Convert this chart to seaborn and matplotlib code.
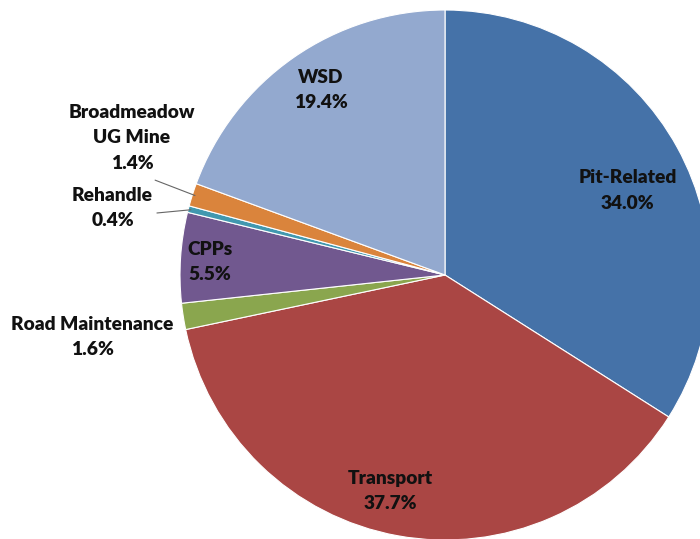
import numpy as np
import matplotlib
matplotlib.use("Agg")
import matplotlib.pyplot as plt
import seaborn as sns

# data (clockwise from 12 o'clock)
categories = ["Pit-Related", "Transport", "Road Maintenance", "CPPs",
              "Rehandle", "Broadmeadow\nUG Mine", "WSD"]
shares = [34.0, 37.7, 1.6, 5.5, 0.4, 1.4, 19.4]
colors = ["#4572A8", "#AA4644", "#8AA64E", "#71588F",
          "#4198AF", "#DA843C", "#93A9CF"]

# label placement: radial distance (in pie radii) and small angle nudges
label_r = [0.76, 0.84, 1.35, 0.89, 1.28, 1.29, 0.84]
label_dang = [-4, -4, 1, 0.6, 3, -6, -1]
# leader line start points for the small outside labels
leader_start = {4: (-1.087, 0.234), 5: (-1.094, 0.358)}

sns.set_theme(style="white")
plt.rcParams["font.family"] = ["Lato", "DejaVu Sans"]

fig = plt.figure(figsize=(7.0, 5.39), dpi=100)
ax = fig.add_axes([0, 0, 1, 1])

wedges, _ = ax.pie(shares, colors=sns.color_palette(colors), startangle=90,
                   counterclock=False, radius=1.0,
                   wedgeprops=dict(edgecolor="white", linewidth=0.8))

for i, w in enumerate(wedges):
    mid = np.deg2rad((w.theta1 + w.theta2) / 2 + label_dang[i])
    x, y = label_r[i] * np.cos(mid), label_r[i] * np.sin(mid)
    ax.text(x, y, f"{categories[i]}\n{shares[i]:.1f}%", ha="center", va="center",
            fontsize=13.8, fontweight="heavy", color="#111111", linespacing=1.6)
    if i in leader_start:
        m = np.deg2rad((w.theta1 + w.theta2) / 2)
        sx, sy = leader_start[i]
        ax.plot([sx, 0.99 * np.cos(m)], [sy, 0.99 * np.sin(m)],
                color="#666666", lw=0.8)

ax.set_xlim(-445 / 265, 255 / 265)
ax.set_ylim(-264 / 265, 275 / 265)
ax.set_aspect("equal")
ax.axis("off")

fig.savefig("out.png", dpi=100)
